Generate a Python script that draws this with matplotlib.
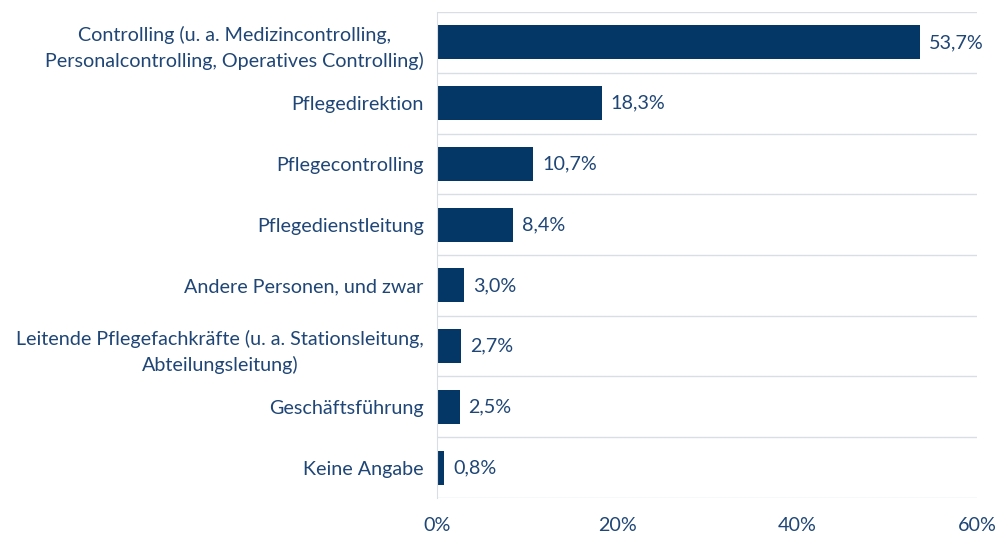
import matplotlib
matplotlib.use("Agg")
import matplotlib.pyplot as plt
import numpy as np

categories = [
    "Controlling (u. a. Medizincontrolling,\nPersonalcontrolling, Operatives Controlling)",
    "Pflegedirektion",
    "Pflegecontrolling",
    "Pflegedienstleitung",
    "Andere Personen, und zwar",
    "Leitende Pflegefachkräfte (u. a. Stationsleitung,\nAbteilungsleitung)",
    "Geschäftsführung",
    "Keine Angabe",
]
values = [53.7, 18.3, 10.7, 8.4, 3.0, 2.7, 2.5, 0.8]
xticks = [0, 20, 40, 60]

bar_color = "#043765"
text_color = "#1F4676"
grid_color = "#D9DDE4"

plt.rcParams['font.family'] = ['Lato', 'DejaVu Sans']
fs = 14.2

fig = plt.figure(figsize=(9.98, 5.36), dpi=100)
ax = fig.add_axes([0.4379, 0.0709, 0.979 - 0.4379, 0.9776 - 0.0709])

y = np.arange(len(categories))
bars = ax.barh(y, values, height=0.56, color=bar_color, zorder=3)

ax.set_xlim(0, 60)
ax.set_ylim(len(categories) - 0.5, -0.5)

# boundaries between categories
for b in np.arange(-0.5, len(categories), 1.0):
    ax.axhline(b, color=grid_color, linewidth=1.0, zorder=1)

ax.set_yticks(y)
ax.set_yticklabels(categories, fontsize=fs, color=text_color, ha='right',
                   multialignment='center', linespacing=1.55)
ax.tick_params(axis='y', length=0, pad=9.5)

ax.set_xticks(xticks)
ax.set_xticklabels([f"{t}%" for t in xticks], fontsize=fs, color=text_color)
ax.tick_params(axis='x', length=0, pad=14)

for s in ['top', 'right', 'bottom']:
    ax.spines[s].set_visible(False)
ax.spines['left'].set_color(grid_color)
ax.spines['left'].set_zorder(4)

for rect, v in zip(bars, values):
    ax.annotate(f"{v:.1f}%".replace(".", ","),
                xy=(rect.get_width(), rect.get_y() + rect.get_height() / 2),
                xytext=(6.5, 0), textcoords="offset points",
                ha='left', va='center', fontsize=fs, color=text_color)

fig.savefig("out.png", dpi=100)
